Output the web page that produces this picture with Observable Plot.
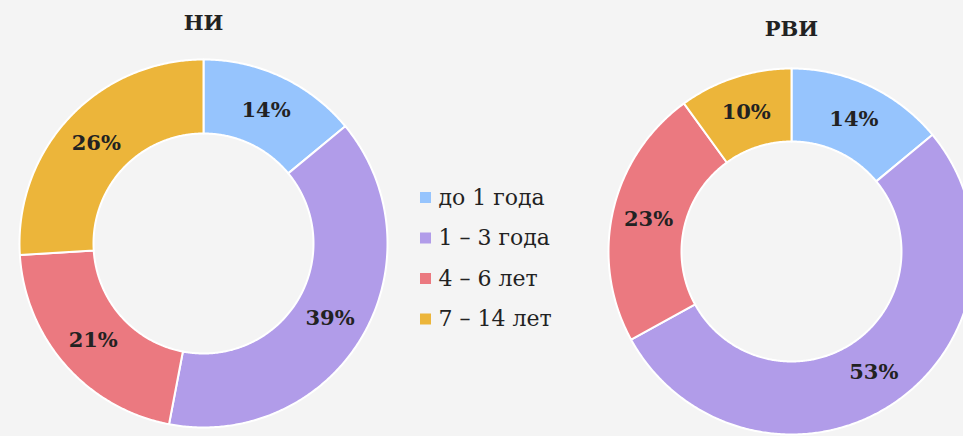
<!DOCTYPE html>
<html>
<head>
<meta charset="utf-8">
<script src="https://cdn.jsdelivr.net/npm/d3@7"></script>
<script src="https://cdn.jsdelivr.net/npm/@observablehq/plot@0.6"></script>
<style>
  html, body { margin: 0; padding: 0; background: #f4f4f4; }
  #chart svg { display: block; }
</style>
</head>
<body>
<div id="chart"></div>
<script>
// ---- data ----
const categories = ["до 1 года", "1 – 3 года", "4 – 6 лет", "7 – 14 лет"];
const colors = ["#96c4fd", "#b19ce9", "#eb7980", "#ecb53a"];
const titles = ["НИ", "РВИ"];
const valuesNI = [14, 39, 21, 26];
const valuesRVI = [14, 53, 23, 10];

// ---- layout ----
const W = 963, H = 436;
const charts = [
  {title: titles[0], values: valuesNI, cx: 203, cy: 243, r: 184, r0: 110, ty: 23},
  {title: titles[1], values: valuesRVI, cx: 791, cy: 251, r: 183, r0: 110, ty: 29}
];

const slices = [];
const labels = [];
const titleRows = [];
charts.forEach((c, ci) => {
  const total = d3.sum(c.values);
  let acc = 0;
  titleRows.push({x: c.cx, y: c.ty, text: c.title});
  c.values.forEach((v, i) => {
    const a0 = acc / total * 2 * Math.PI;
    acc += v;
    const a1 = acc / total * 2 * Math.PI;
    const key = ci + "-" + i;
    const n = Math.max(4, Math.ceil((a1 - a0) / (Math.PI / 360)));
    const pts = [];
    for (let k = 0; k <= n; k++) {
      const a = a0 + (a1 - a0) * k / n;
      pts.push({key, cat: categories[i], x: c.cx + c.r * Math.sin(a), y: c.cy - c.r * Math.cos(a)});
    }
    for (let k = n; k >= 0; k--) {
      const a = a0 + (a1 - a0) * k / n;
      pts.push({key, cat: categories[i], x: c.cx + c.r0 * Math.sin(a), y: c.cy - c.r0 * Math.cos(a)});
    }
    pts.push({...pts[0]});
    slices.push(...pts);
    const am = (a0 + a1) / 2, rm = (c.r + c.r0) / 2;
    labels.push({x: c.cx + rm * Math.sin(am), y: c.cy - rm * Math.cos(am), text: v + "%"});
  });
});

const legendRows = categories.map((cat, i) => ({cat, x: 425, y: 197 + i * 40.5}));

const font = "'DejaVu Serif', serif";
const plot = Plot.plot({
  width: W, height: H,
  margin: 0,
  style: {background: "#f4f4f4", fontFamily: font},
  x: {domain: [0, W], range: [0, W], axis: null},
  y: {domain: [0, H], range: [0, H], axis: null},
  color: {domain: categories, range: colors},
  marks: [
    Plot.line(slices, {x: "x", y: "y", z: "key", fill: "cat", stroke: "white", strokeWidth: 2, strokeLinejoin: "round", curve: "linear"}),
    Plot.text(labels, {x: "x", y: "y", text: "text", fontSize: 21, fontWeight: "bold", fill: "#222", fontFamily: font}),
    Plot.text(titleRows, {x: "x", y: "y", text: "text", fontSize: 21, fontWeight: "bold", fill: "#222", fontFamily: font}),
    Plot.dot(legendRows, {x: "x", y: "y", fill: "cat", symbol: "square", r: 6.2}),
    Plot.text(legendRows, {x: d => d.x + 13, y: "y", text: "cat", textAnchor: "start", fontSize: 22, fill: "#222", fontFamily: font})
  ]
});
document.getElementById("chart").appendChild(plot);
</script>
</body>
</html>
